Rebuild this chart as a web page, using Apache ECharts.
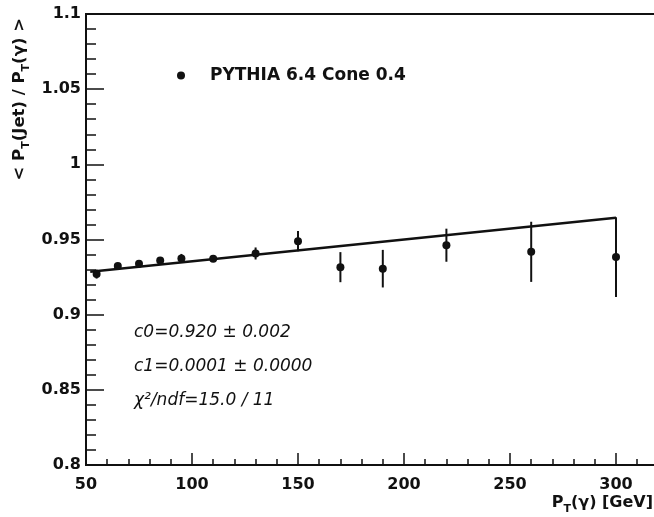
<!DOCTYPE html>
<html>
<head>
<meta charset="utf-8">
<script src="https://cdn.jsdelivr.net/npm/echarts@6/dist/echarts.min.js"></script>
<style>
  html, body { margin: 0; padding: 0; background: #fff; }
  #chart { width: 654px; height: 517px; }
</style>
</head>
<body>
<div id="chart"></div>
<script>
// measured points: pT(gamma), <pT(jet)/pT(gamma)>, error
const ptGamma = [55, 65, 75, 85, 95, 110, 130, 150, 170, 190, 220, 260, 300]
const ratio = [0.927, 0.9323, 0.9339, 0.9361, 0.9374, 0.9372, 0.9407, 0.9489, 0.9316, 0.9306, 0.9462, 0.9418, 0.9383]
const ratioErr = [0.003, 0.0015, 0.0015, 0.002, 0.003, 0.002, 0.004, 0.0067, 0.010, 0.0125, 0.011, 0.020, 0.0265]

// fit line end points
const fitX = [52, 300]
const fitY = [0.9286, 0.9645]

const fitText = ['c0=0.920 \u00b1 0.002', 'c1=0.0001 \u00b1 0.0000', '\u03c7\u00b2/ndf=15.0 / 11']
const seriesName = 'PYTHIA 6.4 Cone 0.4'

const FONT = 'DejaVu Sans'
const INK = '#111'

const points = ptGamma.map((x, i) => [x, ratio[i]])
const bars = ptGamma.map((x, i) => [x, ratio[i] - ratioErr[i], ratio[i] + ratioErr[i]])
const fitLine = fitX.map((x, i) => [x, fitY[i]])

const options = {
  animation: false,
  grid: {
    left: 86,
    top: 14,
    width: 636,
    height: 451,
    outerBoundsMode: 'none',
    show: true,
    borderColor: INK,
    borderWidth: 2,
  },
  legend: {
    left: 172,
    top: 62,
    itemWidth: 48,
    itemHeight: 8,
    icon: 'circle',
    data: [seriesName],
    textStyle: {
      fontFamily: FONT,
      fontWeight: 'bold',
      fontSize: 17,
      color: INK,
    },
  },
  xAxis: {
    type: 'value',
    min: 50,
    max: 350,
    interval: 50,
    splitLine: { show: false },
    axisLine: { lineStyle: { color: INK, width: 1.5 } },
    axisTick: { inside: true, length: 12, lineStyle: { color: INK, width: 1.5 } },
    minorTick: { show: true, splitNumber: 5, length: 6, lineStyle: { color: INK, width: 1.5 } },
    axisLabel: {
      margin: 12,
      fontFamily: FONT,
      fontWeight: 'bold',
      fontSize: 16,
      color: INK,
    },
  },
  yAxis: {
    type: 'value',
    min: 0.8,
    max: 1.1,
    interval: 0.05,
    splitLine: { show: false },
    axisLine: { show: true, lineStyle: { color: INK, width: 1.5 } },
    axisTick: { inside: true, length: 18, lineStyle: { color: INK, width: 1.5 } },
    minorTick: { show: true, splitNumber: 5, length: 10, lineStyle: { color: INK, width: 1.5 } },
    axisLabel: {
      margin: 5,
      fontFamily: FONT,
      fontWeight: 'bold',
      fontSize: 16,
      color: INK,
    },
  },
  graphic: [
    {
      type: 'text',
      x: 20,
      y: 18,
      rotation: Math.PI / 2,
      style: {
        text: '{m|< P}{s|T}{m|(Jet) / P}{s|T}{m|(\u03b3) >}',
        align: 'right',
        verticalAlign: 'middle',
        fill: INK,
        rich: {
          m: { fontFamily: FONT, fontWeight: 'bold', fontSize: 16.5, lineHeight: 24, fill: INK },
          s: { fontFamily: FONT, fontWeight: 'bold', fontSize: 11, lineHeight: 11, verticalAlign: 'bottom', fill: INK },
        },
      },
    },
    {
      type: 'text',
      x: 653,
      y: 503,
      style: {
        text: '{m|P}{s|T}{m|(\u03b3) [GeV]}',
        align: 'right',
        verticalAlign: 'middle',
        fill: INK,
        rich: {
          m: { fontFamily: FONT, fontWeight: 'bold', fontSize: 16, lineHeight: 24, fill: INK },
          s: { fontFamily: FONT, fontWeight: 'bold', fontSize: 11, lineHeight: 11, verticalAlign: 'bottom', fill: INK },
        },
      },
    },
  ].concat(fitText.map((t, i) => ({
    type: 'text',
    x: 134,
    y: 333 + i * 34,
    style: {
      text: t,
      fontFamily: FONT,
      fontStyle: 'italic',
      fontSize: 17,
      fill: INK,
      align: 'left',
      verticalAlign: 'middle',
    },
  }))),
  series: [
    {
      name: 'fit',
      type: 'line',
      data: fitLine,
      showSymbol: false,
      lineStyle: { color: INK, width: 2.5 },
      z: 3,
    },
    {
      name: 'errors',
      type: 'custom',
      data: bars,
      renderItem: function (params, api) {
        const top = api.coord([api.value(0), api.value(2)])
        const bot = api.coord([api.value(0), api.value(1)])
        return {
          type: 'line',
          shape: { x1: top[0], y1: top[1], x2: bot[0], y2: bot[1] },
          style: { stroke: INK, lineWidth: 2 },
        }
      },
      z: 4,
    },
    {
      name: seriesName,
      type: 'scatter',
      data: points,
      symbol: 'circle',
      symbolSize: 8,
      itemStyle: { color: INK, opacity: 1 },
      z: 5,
    },
  ],
}

const chart = echarts.init(document.getElementById('chart'))
chart.setOption(options)
</script>
</body>
</html>
